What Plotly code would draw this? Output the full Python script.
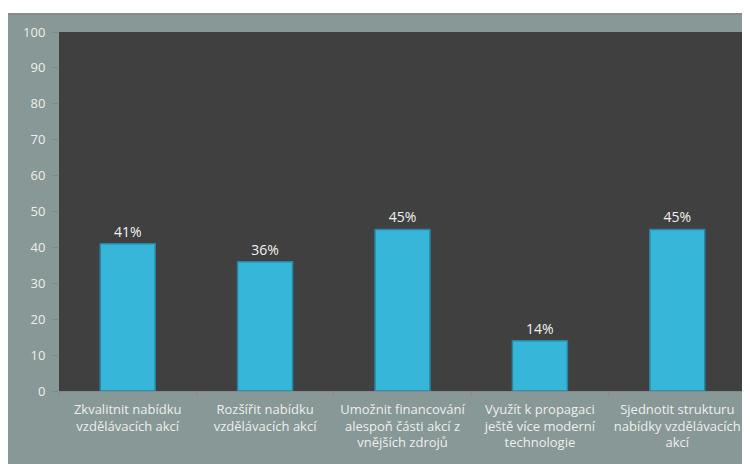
import plotly.graph_objects as go

categories = [
    "Zkvalitnit nabídku<br>vzdělávacích akcí",
    "Rozšířit nabídku<br>vzdělávacích akcí",
    "Umožnit financování<br>alespoň části akcí z<br>vnějších zdrojů",
    "Využít k propagaci<br>ještě více moderní<br>technologie",
    "Sjednotit strukturu<br>nabídky vzdělávacích<br>akcí",
]
values = [41, 36, 45, 14, 45]
labels = ["41%", "36%", "45%", "14%", "45%"]
y_ticks = list(range(0, 101, 10))

# page body has an 8px margin, so figure is drawn at (8, 8)
W, H = 742, 456
L, R, T, B = 51, 4, 24, 73
pw, ph = W - L - R, H - T - B

fig = go.Figure()
fig.add_trace(go.Bar(
    x=categories, y=values, text=labels, textposition="outside",
    textfont=dict(color="#f0f0f0", size=14, family="Open Sans"),
    marker=dict(color="#36b6d8", line=dict(color="#2687a3", width=1.5)),
    cliponaxis=False,
))

shapes = [
    dict(type="rect", xref="paper", yref="paper", x0=-L / pw - 0.01, x1=1.02,
         y0=1 + (T - 5) / ph, y1=1 + T / ph + 0.01, fillcolor="white", line_width=0, layer="below"),
    dict(type="line", xref="paper", yref="paper", x0=-L / pw - 0.01, x1=1.02,
         y0=1 + (T - 6) / ph, y1=1 + (T - 6) / ph, line=dict(color="#8c8c8c", width=2), layer="below"),
]

fig.update_layout(
    width=W, height=H,
    margin=dict(l=L, r=R, t=T, b=B, autoexpand=False),
    paper_bgcolor="#879896",
    plot_bgcolor="#404040",
    bargap=0.6,
    showlegend=False,
    shapes=shapes,
    font=dict(family="Open Sans", color="#eeeeee", size=13),
    xaxis=dict(
        showgrid=False, showline=True, linecolor="#8a8a8a", linewidth=1,
        ticks="outside", tickson="boundaries", ticklen=5, tickcolor="#8a8a8a",
        ticklabelstandoff=6, tickangle=0, automargin=False,
        tickfont=dict(size=13, color="#eeeeee"), fixedrange=True,
    ),
    yaxis=dict(
        range=[0, 100], tickvals=y_ticks, showgrid=False, zeroline=False,
        showline=False, ticks="outside", ticklen=6, tickcolor="#7a8a89",
        ticklabelstandoff=4, automargin=False,
        tickfont=dict(size=13, color="#eeeeee"),
    ),
)

fig.write_html("out.html")
